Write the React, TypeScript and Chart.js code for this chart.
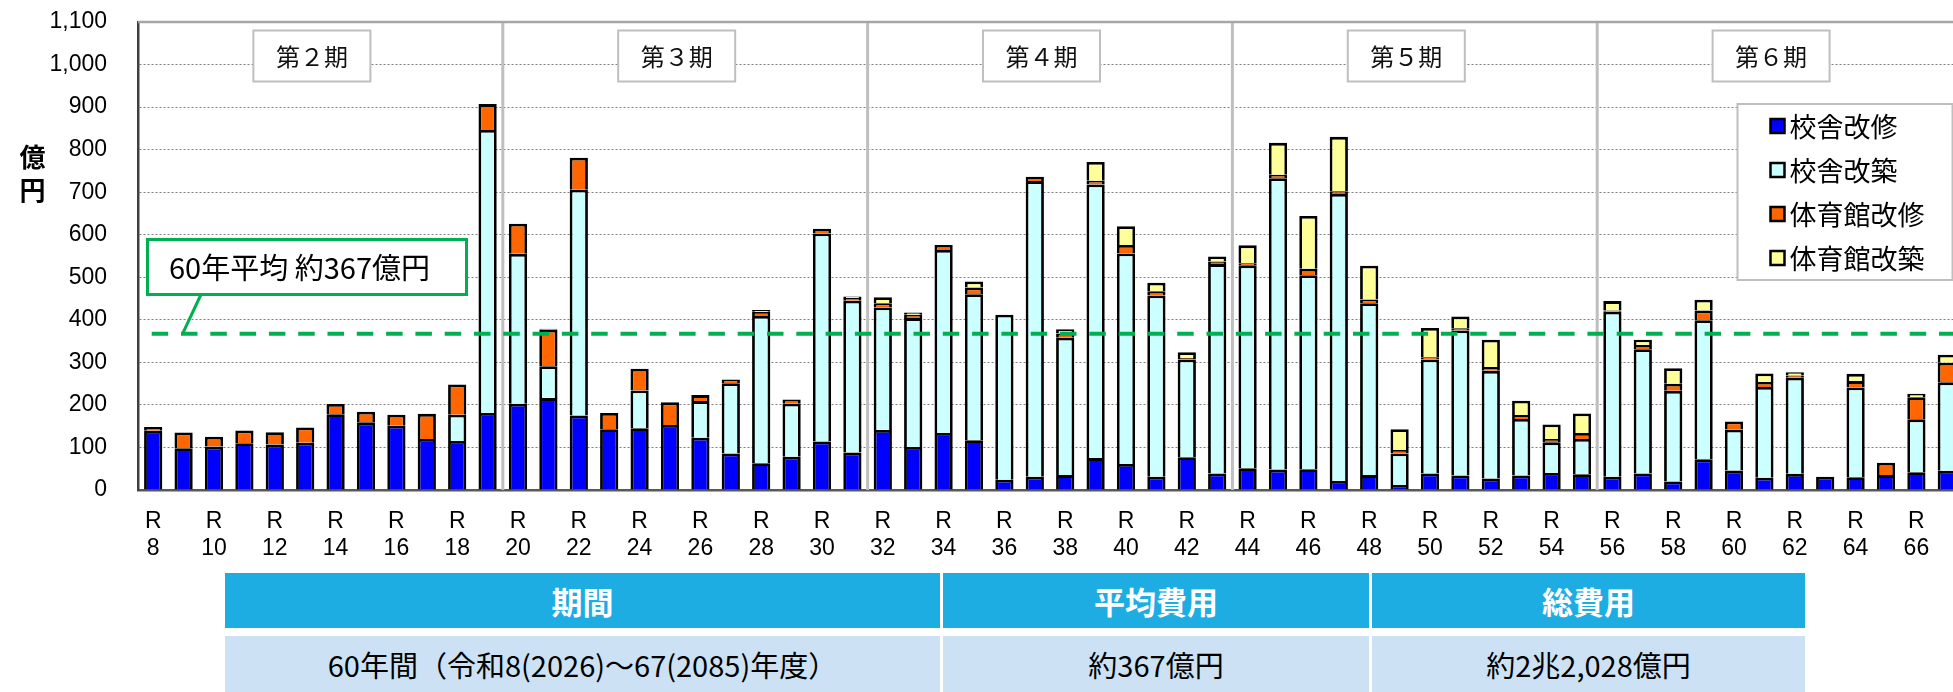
import React, { useEffect, useRef } from 'react';
import { Chart, registerables } from 'chart.js';
Chart.register(...registerables);

const categories = [
  'R8','R9','R10','R11','R12','R13','R14','R15','R16','R17','R18','R19',
  'R20','R21','R22','R23','R24','R25','R26','R27','R28','R29','R30','R31',
  'R32','R33','R34','R35','R36','R37','R38','R39','R40','R41','R42','R43',
  'R44','R45','R46','R47','R48','R49','R50','R51','R52','R53','R54','R55',
  'R56','R57','R58','R59','R60','R61','R62','R63','R64','R65','R66','R67',
];

// 校舎改修
const schoolRepair = [
  139, 98, 102, 110, 107, 111, 178, 159, 151, 120, 115, 181,
  203, 216, 175, 143, 145, 153, 123, 86, 63, 78, 114, 88,
  141, 101, 134, 117, 24, 31, 35, 75, 61, 31, 77, 39,
  51, 48, 49, 21, 35, 12, 39, 34, 27, 34, 40, 37,
  31, 39, 20, 72, 46, 29, 38, 31, 30, 35, 42, 45,
];
// 校舎改築
const schoolRebuild = [
  0, 0, 0, 0, 0, 0, 0, 0, 0, 0, 62, 665,
  352, 75, 531, 0, 89, 0, 86, 165, 346, 125, 489, 357,
  288, 303, 430, 343, 388, 695, 323, 643, 495, 426, 230, 492,
  477, 685, 456, 675, 404, 74, 268, 341, 253, 133, 72, 83,
  388, 292, 213, 327, 96, 213, 226, 0, 211, 0, 124, 208,
];
// 体育館改修
const gymRepair = [
  9, 37, 23, 30, 29, 36, 24, 25, 26, 59, 71, 61,
  71, 86, 75, 38, 51, 53, 14, 9, 10, 10, 11, 6,
  10, 8, 12, 16, 0, 10, 10, 9, 20, 10, 3, 6,
  5, 8, 15, 6, 9, 8, 5, 5, 9, 9, 8, 14,
  3, 10, 17, 23, 19, 12, 5, 0, 15, 29, 52, 46,
];
// 体育館改築
const gymRebuild = [
  0, 0, 0, 0, 0, 0, 0, 0, 0, 0, 0, 0,
  0, 2, 0, 0, 0, 0, 0, 0, 4, 0, 0, 4,
  14, 5, 0, 14, 0, 0, 10, 44, 44, 20, 14, 12,
  42, 75, 124, 128, 79, 49, 69, 28, 64, 34, 34, 46,
  22, 12, 36, 25, 0, 20, 8, 0, 17, 0, 8, 19,
];

const seriesLabels = ['校舎改修', '校舎改築', '体育館改修', '体育館改築'];
const seriesColors = ['#0000FF', '#CCFFFF', '#FF6600', '#FFFF99'];

const AVERAGE = 367;
const averageLabel = '60年平均 約367億円';

const periodLabels = ['第２期', '第３期', '第４期', '第５期', '第６期'];
const periodStarts = [0, 12, 24, 36, 48];

const yTicks = [0, 100, 200, 300, 400, 500, 600, 700, 800, 900, 1000, 1100];
const yTitle = ['億', '円'];

const tableHeaders = ['期間', '平均費用', '総費用'];
const tableValues = ['60年間（令和8(2026)～67(2085)年度）', '約367億円', '約2兆2,028億円'];

const JP = "'Noto Sans CJK JP', 'Noto Sans', sans-serif";
const LAT = "'Liberation Sans', Arial, sans-serif";

const overlayPlugin = {
  id: 'overlay',
  beforeDatasetsDraw(chart: any) {
    const { ctx, chartArea: a, scales } = chart;
    const x = scales.x;
    ctx.save();
    ctx.strokeStyle = '#BFBFBF';
    ctx.lineWidth = 3;
    for (const s of periodStarts.slice(1)) {
      const px = (x.getPixelForValue(s - 1) + x.getPixelForValue(s)) / 2;
      ctx.beginPath();
      ctx.moveTo(px, a.top);
      ctx.lineTo(px, a.bottom);
      ctx.stroke();
    }
    ctx.strokeStyle = '#A6A6A6';
    ctx.lineWidth = 2.5;
    ctx.beginPath();
    ctx.moveTo(a.left, a.top);
    ctx.lineTo(a.right, a.top);
    ctx.stroke();
    ctx.restore();
  },
  afterDatasetsDraw(chart: any) {
    const { ctx, chartArea: a, scales } = chart;
    const x = scales.x;
    const y = scales.y;
    ctx.save();
    const green = '#00B050';
    const avgY = y.getPixelForValue(AVERAGE);

    ctx.strokeStyle = green;
    ctx.lineWidth = 4;
    ctx.setLineDash([16.5, 12.8]);
    ctx.beginPath();
    ctx.moveTo(x.getPixelForValue(0) - 1.5, avgY);
    ctx.lineTo(x.getPixelForValue(categories.length - 1) + 10, avgY);
    ctx.stroke();
    ctx.setLineDash([]);

    const bx = a.left + 9.5, bw = 319, by = 239.5, bh = 55;
    ctx.fillStyle = '#FFFFFF';
    ctx.fillRect(bx, by, bw, bh);
    ctx.lineWidth = 3;
    ctx.strokeStyle = green;
    ctx.strokeRect(bx, by, bw, bh);
    ctx.beginPath();
    ctx.moveTo(bx + 53.5, by + bh);
    ctx.lineTo(bx + 35, avgY);
    ctx.stroke();
    ctx.fillStyle = '#000';
    ctx.font = `29px ${JP}`;
    ctx.textAlign = 'left';
    ctx.textBaseline = 'middle';
    ctx.fillText(averageLabel, bx + 21.5, by + bh / 2 + 1);

    ctx.font = `24px ${JP}`;
    ctx.textAlign = 'center';
    periodLabels.forEach((lab, i) => {
      const cx = x.getPixelForValue(periodStarts[i] + 5.22);
      const w = 117, h = 51, top = 30.5;
      ctx.fillStyle = '#FFFFFF';
      ctx.fillRect(cx - w / 2, top, w, h);
      ctx.strokeStyle = '#BFBFBF';
      ctx.lineWidth = 2;
      ctx.strokeRect(cx - w / 2, top, w, h);
      ctx.fillStyle = '#111';
      ctx.fillText(lab, cx, top + h / 2 + 1);
    });

    const lx = 1737.5, ly = 104, lw = 215, lh = 176;
    ctx.fillStyle = '#FFFFFF';
    ctx.fillRect(lx, ly, lw, lh);
    ctx.strokeStyle = '#BFBFBF';
    ctx.lineWidth = 2;
    ctx.strokeRect(lx, ly, lw, lh);
    ctx.font = `27px ${JP}`;
    ctx.textAlign = 'left';
    chart.data.datasets.forEach((ds: any, i: number) => {
      const cy = 126 + i * 44;
      ctx.fillStyle = ds.backgroundColor;
      ctx.fillRect(lx + 33, cy - 7, 14, 14);
      ctx.strokeStyle = '#000';
      ctx.lineWidth = 2.5;
      ctx.strokeRect(lx + 33, cy - 7, 14, 14);
      ctx.fillStyle = '#000';
      ctx.fillText(ds.label, lx + 52, cy + 1);
    });

    ctx.font = `bold 26px ${JP}`;
    ctx.textAlign = 'center';
    ctx.fillStyle = '#000';
    ctx.fillText(yTitle[0], 32.5, 157);
    ctx.fillText(yTitle[1], 32.5, 190);
    ctx.restore();
  },
};

export default function App() {
  const ref = useRef<HTMLCanvasElement>(null);
  useEffect(() => {
    if (!ref.current) return;
    const data = [schoolRepair, schoolRebuild, gymRepair, gymRebuild];
    const chart = new Chart(ref.current, {
      type: 'bar',
      data: {
        labels: categories,
        datasets: data.map((d, i) => ({
          label: seriesLabels[i],
          data: d,
          backgroundColor: seriesColors[i],
          borderColor: '#000000',
          borderWidth: 2.8,
          borderSkipped: 'start',
          barPercentage: 0.6,
          categoryPercentage: 1,
        })),
      },
      options: {
        animation: false,
        responsive: false,
        maintainAspectRatio: false,
        layout: { padding: { left: 0, top: 22, right: 18, bottom: 122 } },
        plugins: { legend: { display: false }, tooltip: { enabled: false } },
        scales: {
          x: {
            stacked: true,
            grid: { display: false, drawTicks: false },
            border: { display: true, color: '#595959', width: 2.5 },
            ticks: {
              autoSkip: false,
              maxRotation: 0,
              minRotation: 0,
              padding: 18,
              color: '#000',
              font: { family: LAT, size: 23, lineHeight: 1.19 },
              callback: (_v: any, i: number) => {
                const yr = categories[i].slice(1);
                return Number(yr) % 2 === 0 ? ['R', yr] : '';
              },
            },
            afterFit: (s: any) => {
              s.height = 80;
              s.paddingLeft = 0;
              s.paddingRight = 0;
              s.paddingTop = 0;
              s.paddingBottom = 0;
            },
          },
          y: {
            stacked: true,
            min: yTicks[0],
            max: yTicks[yTicks.length - 1],
            grid: { color: '#7F7F7F', lineWidth: 1, drawTicks: false },
            border: { display: true, color: '#404040', width: 2.5, dash: [2, 2] },
            ticks: {
              stepSize: 100,
              padding: 31,
              color: '#000',
              font: { family: LAT, size: 23 },
              callback: (v: any) => Number(v).toLocaleString('en-US'),
            },
            afterFit: (s: any) => {
              s.width = 138;
              s.paddingTop = 0;
              s.paddingBottom = 0;
              s.paddingLeft = 0;
              s.paddingRight = 0;
            },
          },
        },
      },
      plugins: [overlayPlugin],
    });
    return () => chart.destroy();
  }, []);

  const cellW = [715, 426, 433];
  const cellX = [225, 943, 1372];
  return (
    <div style={{ position: 'absolute', left: 0, top: 0, width: 1953, height: 692, overflow: 'hidden', background: '#fff' }}>
      <canvas ref={ref} width={1980} height={692} style={{ position: 'absolute', left: 0, top: 0 }} />
      {tableHeaders.map((h, i) => (
        <div key={'h' + i} style={{
          position: 'absolute', left: cellX[i], top: 573, width: cellW[i], height: 55,
          background: '#1EADE3', color: '#fff', fontFamily: JP, fontWeight: 700, fontSize: 31,
          display: 'flex', alignItems: 'center', justifyContent: 'center',
        }}>{h}</div>
      ))}
      {tableValues.map((t, i) => (
        <div key={'v' + i} style={{
          position: 'absolute', left: cellX[i], top: 636, width: cellW[i], height: 56,
          background: '#CCE2F4', color: '#000', fontFamily: JP, fontSize: 29,
          display: 'flex', alignItems: 'center', justifyContent: 'center',
        }}>{t}</div>
      ))}
    </div>
  );
}
